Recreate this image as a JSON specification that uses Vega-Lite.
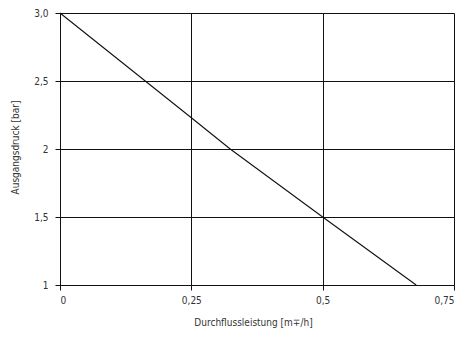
{
  "$schema": "https://vega.github.io/schema/vega-lite/v6.json",
  "width": 394,
  "height": 272,
  "autosize": {"type": "none"},
  "padding": {"left": 60, "top": 13, "right": 14, "bottom": 53},
  "background": "white",
  "data": {"values": [
    {"durchfluss": 0, "druck": 3.0},
    {"durchfluss": 0.25, "druck": 2.23},
    {"durchfluss": 0.324, "druck": 2.0},
    {"durchfluss": 0.5, "druck": 1.5},
    {"durchfluss": 0.678, "druck": 1.0}
  ]},
  "mark": {"type": "line", "color": "#111111", "strokeWidth": 1.1},
  "encoding": {
    "x": {
      "field": "durchfluss", "type": "quantitative",
      "scale": {"domain": [0, 0.75], "nice": false, "zero": false},
      "axis": {
        "values": [0, 0.25, 0.5, 0.75],
        "labelExpr": "replace(toString(datum.value), '.', ',')",
        "title": "Durchflussleistung [m∓/h]",
        "titleX": 193,
        "titleY": 37,
        "titleBaseline": "middle"
      }
    },
    "y": {
      "field": "druck", "type": "quantitative",
      "scale": {"domain": [1, 3], "nice": false, "zero": false},
      "axis": {
        "values": [1, 1.5, 2, 2.5, 3],
        "labelExpr": "datum.value == 3 ? '3,0' : replace(toString(datum.value), '.', ',')",
        "title": "Ausgangsdruck [bar]",
        "titleX": -45,
        "titleY": 134,
        "titleBaseline": "middle",
        "titleAlign": "center",
        "labelPadding": 7
      }
    }
  },
  "config": {
    "view": {"stroke": null},
    "font": "DejaVu Sans Condensed",
    "axis": {
      "grid": true,
      "gridColor": "#111111",
      "gridOpacity": 1,
      "gridWidth": 1,
      "domainColor": "#111111",
      "domainWidth": 1,
      "tickColor": "#111111",
      "tickSize": 5,
      "tickWidth": 1,
      "labelFont": "DejaVu Sans Condensed",
      "labelFontSize": 10,
      "labelColor": "#333333",
      "labelPadding": 5,
      "titleFont": "DejaVu Sans Condensed",
      "titleFontSize": 10,
      "titleFontWeight": "normal",
      "titleColor": "#333333"
    }
  }
}
